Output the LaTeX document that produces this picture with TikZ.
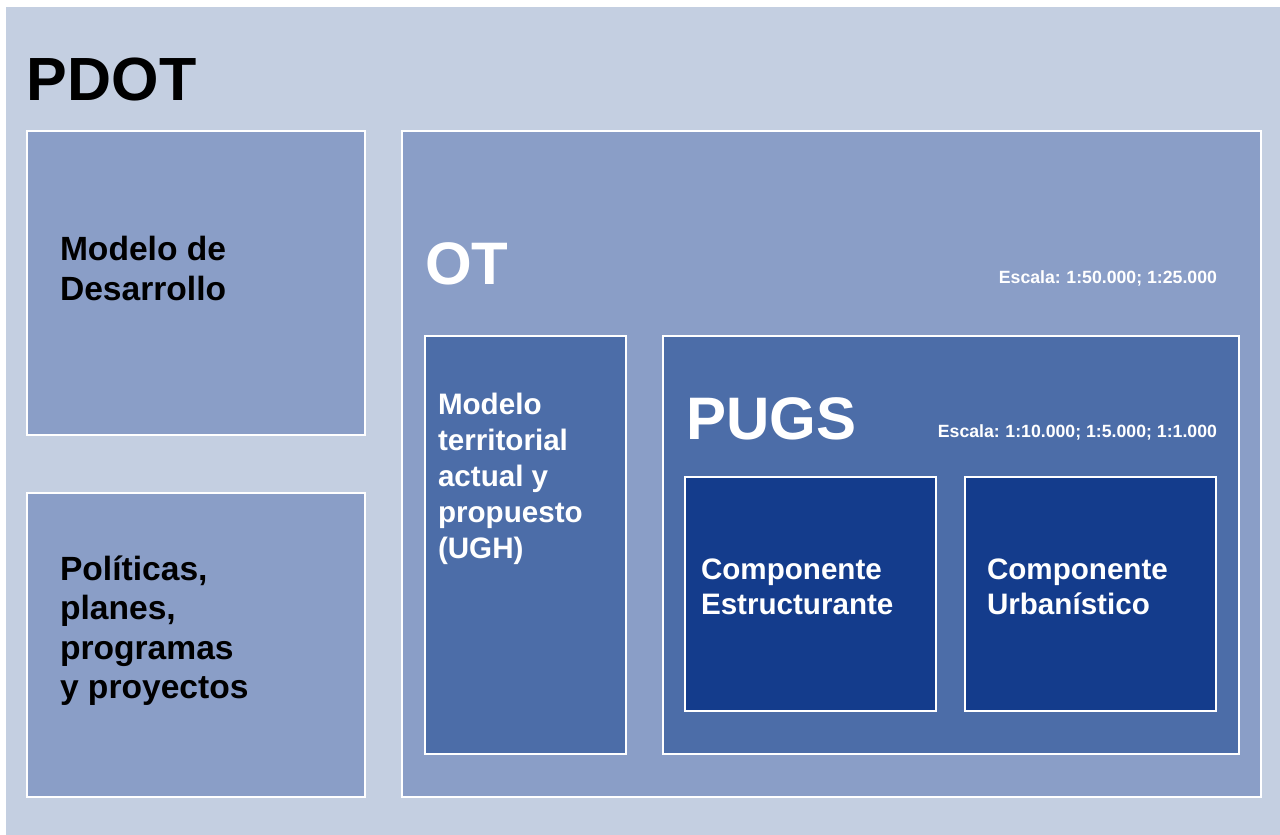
\documentclass[tikz,border=0pt]{standalone}
\usepackage{fontspec}
\setmainfont{Liberation Sans}
\definecolor{bgl}{HTML}{C4CFE1}
\definecolor{bgm}{HTML}{8A9EC7}
\definecolor{bgd}{HTML}{4C6DA8}
\definecolor{bgx}{HTML}{143C8C}
\newcommand\fs[2]{\fontsize{#1}{#2}\selectfont\bfseries}
\begin{document}
\begin{tikzpicture}[x=1pt,y=-1pt,
  panel/.style={draw=white,line width=1.8pt},
  lbl/.style={inner sep=0pt,outer sep=0pt,anchor=base west},
  rlbl/.style={inner sep=0pt,outer sep=0pt,anchor=base east}]
\useasboundingbox (0,0) rectangle (1280,835);
\fill[white] (0,0) rectangle (1280,835);
\fill[bgl] (6,7) rectangle (1280,835);
% panels
\draw[panel,fill=bgm] (27,131) rectangle (365,435);
\draw[panel,fill=bgm] (27,493) rectangle (365,797);
\draw[panel,fill=bgm] (402,131) rectangle (1261,797);
\draw[panel,fill=bgd] (425,336) rectangle (626,754);
\draw[panel,fill=bgd] (663,336) rectangle (1239,754);
\draw[panel,fill=bgx] (685,477) rectangle (936,711);
\draw[panel,fill=bgx] (965,477) rectangle (1216,711);
% texts
\node[lbl,font=\fs{61}{70}] (pdot) at (27,100) {PDOT};
\node[lbl,font=\fs{33.6}{40}] (md) at (60,260) {\vtop{\hbox{Modelo de}\hbox{Desarrollo}}};
\node[lbl,font=\fs{33.6}{39.5}] (pp) at (60,580) {\vtop{\hbox{Políticas,}\hbox{planes,}\hbox{programas}\hbox{y proyectos}}};
\node[lbl,font=\fs{60}{68},text=white] (ot) at (425,284) {OT};
\node[rlbl,font=\fs{17.7}{20},text=white] (esc1) at (1217,283) {Escala:\kern-1pt{} 1:50.000; 1:25.000};
\node[lbl,font=\fs{29.6}{36},text=white] (mt) at (438,414) {\vtop{\hbox{Modelo}\hbox{territorial}\hbox{actual y}\hbox{propuesto}\hbox{(UGH)}}};
\node[lbl,font=\fs{60}{68},text=white] (pugs) at (686,439) {PUGS};
\node[rlbl,font=\fs{17.7}{20},text=white] (esc2) at (1217,437) {Escala:\kern-1pt{} 1:10.000; 1:5.000; 1:1.000};
\node[lbl,font=\fs{29.6}{35},text=white] (ce) at (701,579) {\vtop{\hbox{Componente}\hbox{Estructurante}}};
\node[lbl,font=\fs{29.6}{35},text=white] (cu) at (987,579) {\vtop{\hbox{Componente}\hbox{Urbanístico}}};
\end{tikzpicture}
\end{document}
